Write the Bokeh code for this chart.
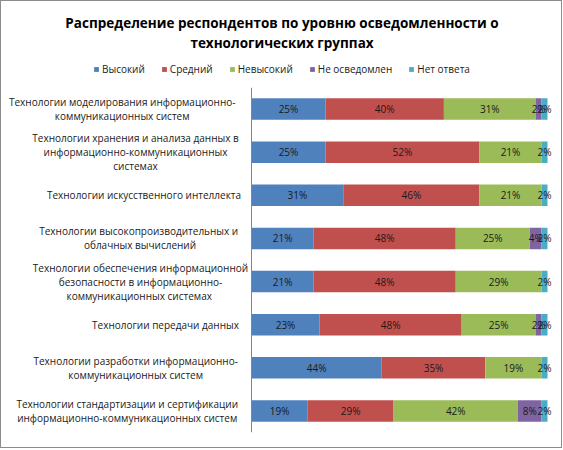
from bokeh.plotting import figure
from bokeh.layouts import column
from bokeh.models import (ColumnDataSource, FactorRange, Legend, LegendItem, Span, Range1d, Label)
from bokeh.embed import file_html
from bokeh.resources import INLINE
from bokeh.core.properties import value

title_lines = ["Распределение респондентов по уровню осведомленности о", "технологических группах"]
categories = [
    "Технологии моделирования  информационно-\nкоммуникационных  систем",
    "Технологии хранения и анализа данных в\nинформационно-коммуникационных\nсистемах",
    "Технологии искусственного интеллекта",
    "Технологии высокопроизводительных  и\nоблачных вычислений",
    "Технологии обеспечения информационной\nбезопасности в информационно-\nкоммуникационных  системах",
    "Технологии передачи данных",
    "Технологии разработки  информационно-\nкоммуникационных  систем",
    "Технологии стандартизации  и сертификации\nинформационно-коммуникационных  систем",
]
vysokiy = [25, 25, 31, 21, 21, 23, 44, 19]
sredniy = [40, 52, 46, 48, 48, 48, 35, 29]
nevysokiy = [31, 21, 21, 25, 29, 25, 19, 42]
ne_osvedomlen = [2, 0, 0, 4, 0, 2, 0, 8]
net_otveta = [2, 2, 2, 2, 2, 2, 2, 2]

series_names = ["Высокий", "Средний", "Невысокий", "Не осведомлен", "Нет ответа"]
colors = ["#4F81BD", "#C0504D", "#9BBB59", "#8064A2", "#4BACC6"]
series = [vysokiy, sredniy, nevysokiy, ne_osvedomlen, net_otveta]
keys = ["s0", "s1", "s2", "s3", "s4"]

# layout / style constants
FONT = "Open Sans"
W = 560
TOP_H = 86
MAIN_H = 360
FRAME_H = 345
PX_PER_PCT = 2.96
AXIS_X = 250
LABEL_GAP = 13
LINE_PX = 14
# approximate rendered width (px) of the widest line of each category label block
block_px = [230, 206, 189, 197, 196, 146, 203, 220]
TEXT_COLOR = "#1a1a1a"

# ---------------- header: title + legend ----------------
top = figure(width=W, height=TOP_H, x_range=Range1d(0, W), y_range=Range1d(TOP_H, 0),
             x_axis_location=None, y_axis_location=None, title=None,
             output_backend="svg", toolbar_location=None,
             min_border_left=0, min_border_right=0, min_border_top=0, min_border_bottom=0)
top.outline_line_color = None
top.xgrid.grid_line_color = None
top.ygrid.grid_line_color = None

for txt, yy in zip(title_lines, [21, 41]):
    top.add_layout(Label(x=280.5, y=yy, text=txt, text_align="center", text_baseline="middle",
                         text_font=FONT, text_font_size="13.5px", text_font_style="bold",
                         text_color="#000000"))

# hidden proxies (same series) that only provide the legend swatches
legend_renderers = [top.hbar(y=list(range(len(s))), right=s, height=0.5, color=c, line_color=None,
                             visible=False) for s, c in zip(series, colors)]
legend = Legend(items=[LegendItem(label=n, renderers=[r]) for n, r in zip(series_names, legend_renderers)],
                orientation="horizontal", location=(92, 11),
                glyph_width=6, glyph_height=6, label_standoff=3, spacing=16,
                label_text_font=FONT, label_text_font_size="10px", label_text_color=TEXT_COLOR,
                label_height=12, padding=0, margin=0, border_line_color=None,
                background_fill_alpha=0, inactive_fill_alpha=0)
top.add_layout(legend, "center")

# ---------------- main chart ----------------
data = {"cat": categories}
for k, s in zip(keys, series):
    data[k] = s
source = ColumnDataSource(data)

p = figure(width=W, height=MAIN_H, title=None,
           y_range=FactorRange(factors=list(reversed(categories))),
           x_range=Range1d(-AXIS_X / PX_PER_PCT, (W - AXIS_X) / PX_PER_PCT),
           x_axis_location=None, y_axis_location=None,
           output_backend="svg", toolbar_location=None,
           min_border_left=0, min_border_right=0, min_border_top=0,
           min_border_bottom=MAIN_H - FRAME_H)
p.outline_line_color = None
p.xgrid.grid_line_color = None
p.ygrid.grid_line_color = None

renderers = p.hbar_stack(keys, y="cat", height=0.5, color=colors, line_color=None, source=source)

# data labels
lx, ly, lt = [], [], []
for i, c in enumerate(categories):
    left = 0
    for s in series:
        v = s[i]
        if v > 0:
            lx.append(left + v / 2)
            ly.append(c)
            lt.append(f"{v}%")
        left += v
lab_src = ColumnDataSource(dict(x=lx, y=ly, text=lt))
p.text(x="x", y="y", text="text", source=lab_src, text_align="center", text_baseline="middle",
       text_font=value(FONT), text_font_size="10px", text_color=TEXT_COLOR)

# category labels: block right-aligned to the axis, lines centred within the block
cx, cy, ct, cxo, cyo = [], [], [], [], []
for c, bw in zip(categories, block_px):
    lines = c.split("\n")
    n = len(lines)
    for k, line in enumerate(lines):
        cx.append(0)
        cy.append(c)
        ct.append(line)
        cxo.append(-(LABEL_GAP + bw / 2))
        cyo.append((k - (n - 1) / 2) * LINE_PX)
cat_src = ColumnDataSource(dict(x=cx, y=cy, text=ct, xo=cxo, yo=cyo))
p.text(x="x", y="y", text="text", source=cat_src, x_offset="xo", y_offset="yo",
       text_align="center", text_baseline="middle", text_font=value(FONT),
       text_font_size="10px", text_color=TEXT_COLOR)

p.add_layout(Span(location=0, dimension="height", line_color="#868686", line_width=1))

layout = column(top, p, spacing=0, styles={"border": "1px solid #8c8c8c"})

open("out.html", "w").write(file_html(layout, INLINE))
